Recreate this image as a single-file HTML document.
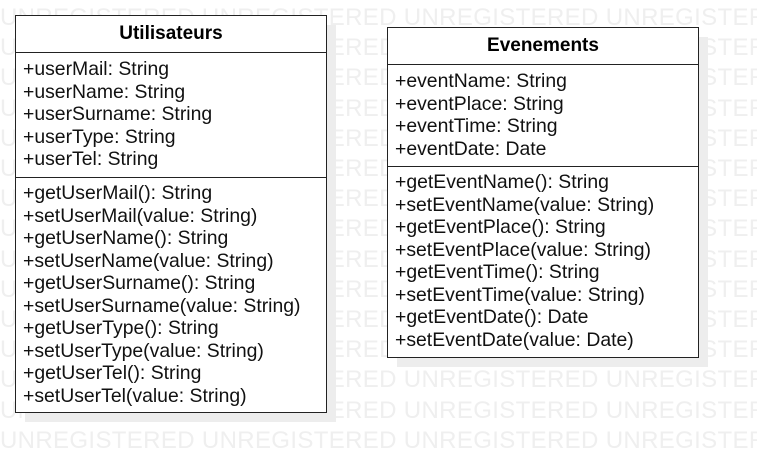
<!DOCTYPE html>
<html><head><style>
body{margin:0;width:757px;height:472px;background:#fff;position:relative;overflow:hidden;font-family:"Liberation Sans",Arial,sans-serif;}
#wms{position:absolute;left:0;top:0;width:757px;height:472px;overflow:hidden}
.wm{position:absolute;left:0;font-size:24px;color:#efefef;white-space:nowrap;line-height:30px;letter-spacing:0.35px}
.sh{position:absolute;background:#ededed}
.box{position:absolute;border:1.5px solid #222;background:#fff;box-sizing:border-box}
.hd{font-weight:bold;font-size:19px;text-align:center;border-bottom:1.5px solid #222;box-sizing:border-box}
.sec{font-size:19.4px;line-height:22.5px;padding-left:7px;box-sizing:border-box;color:#111;white-space:nowrap}
.div{border-bottom:1.5px solid #222}
</style></head><body>
<div id="wms"></div>
<script>
var h='';for(var i=0;i<15;i++){h+='<div class="wm" style="top:'+(3+i*30.2)+'px">UNREGISTERED UNREGISTERED UNREGISTERED UNREGISTER</div>';}
document.getElementById('wms').innerHTML=h;
</script>
<div class="sh" style="left:25px;top:25px;width:311px;height:397px"></div>
<div class="sh" style="left:397px;top:37px;width:311px;height:330px"></div>
<div class="box" style="left:15px;top:15px;width:312px;height:398px">
<div class="hd" style="height:37px;line-height:36px">Utilisateurs</div>
<div class="sec div" style="height:125px;padding-top:5px">+userMail: String<br>+userName: String<br>+userSurname: String<br>+userType: String<br>+userTel: String</div>
<div class="sec" style="padding-top:4px">+getUserMail(): String<br>+setUserMail(value: String)<br>+getUserName(): String<br>+setUserName(value: String)<br>+getUserSurname(): String<br>+setUserSurname(value: String)<br>+getUserType(): String<br>+setUserType(value: String)<br>+getUserTel(): String<br>+setUserTel(value: String)</div>
</div>
<div class="box" style="left:387px;top:27px;width:312px;height:331px">
<div class="hd" style="height:37px;line-height:36px">Evenements</div>
<div class="sec div" style="height:102px;padding-top:5px">+eventName: String<br>+eventPlace: String<br>+eventTime: String<br>+eventDate: Date</div>
<div class="sec" style="padding-top:4px">+getEventName(): String<br>+setEventName(value: String)<br>+getEventPlace(): String<br>+setEventPlace(value: String)<br>+getEventTime(): String<br>+setEventTime(value: String)<br>+getEventDate(): Date<br>+setEventDate(value: Date)</div>
</div>
</body></html>
